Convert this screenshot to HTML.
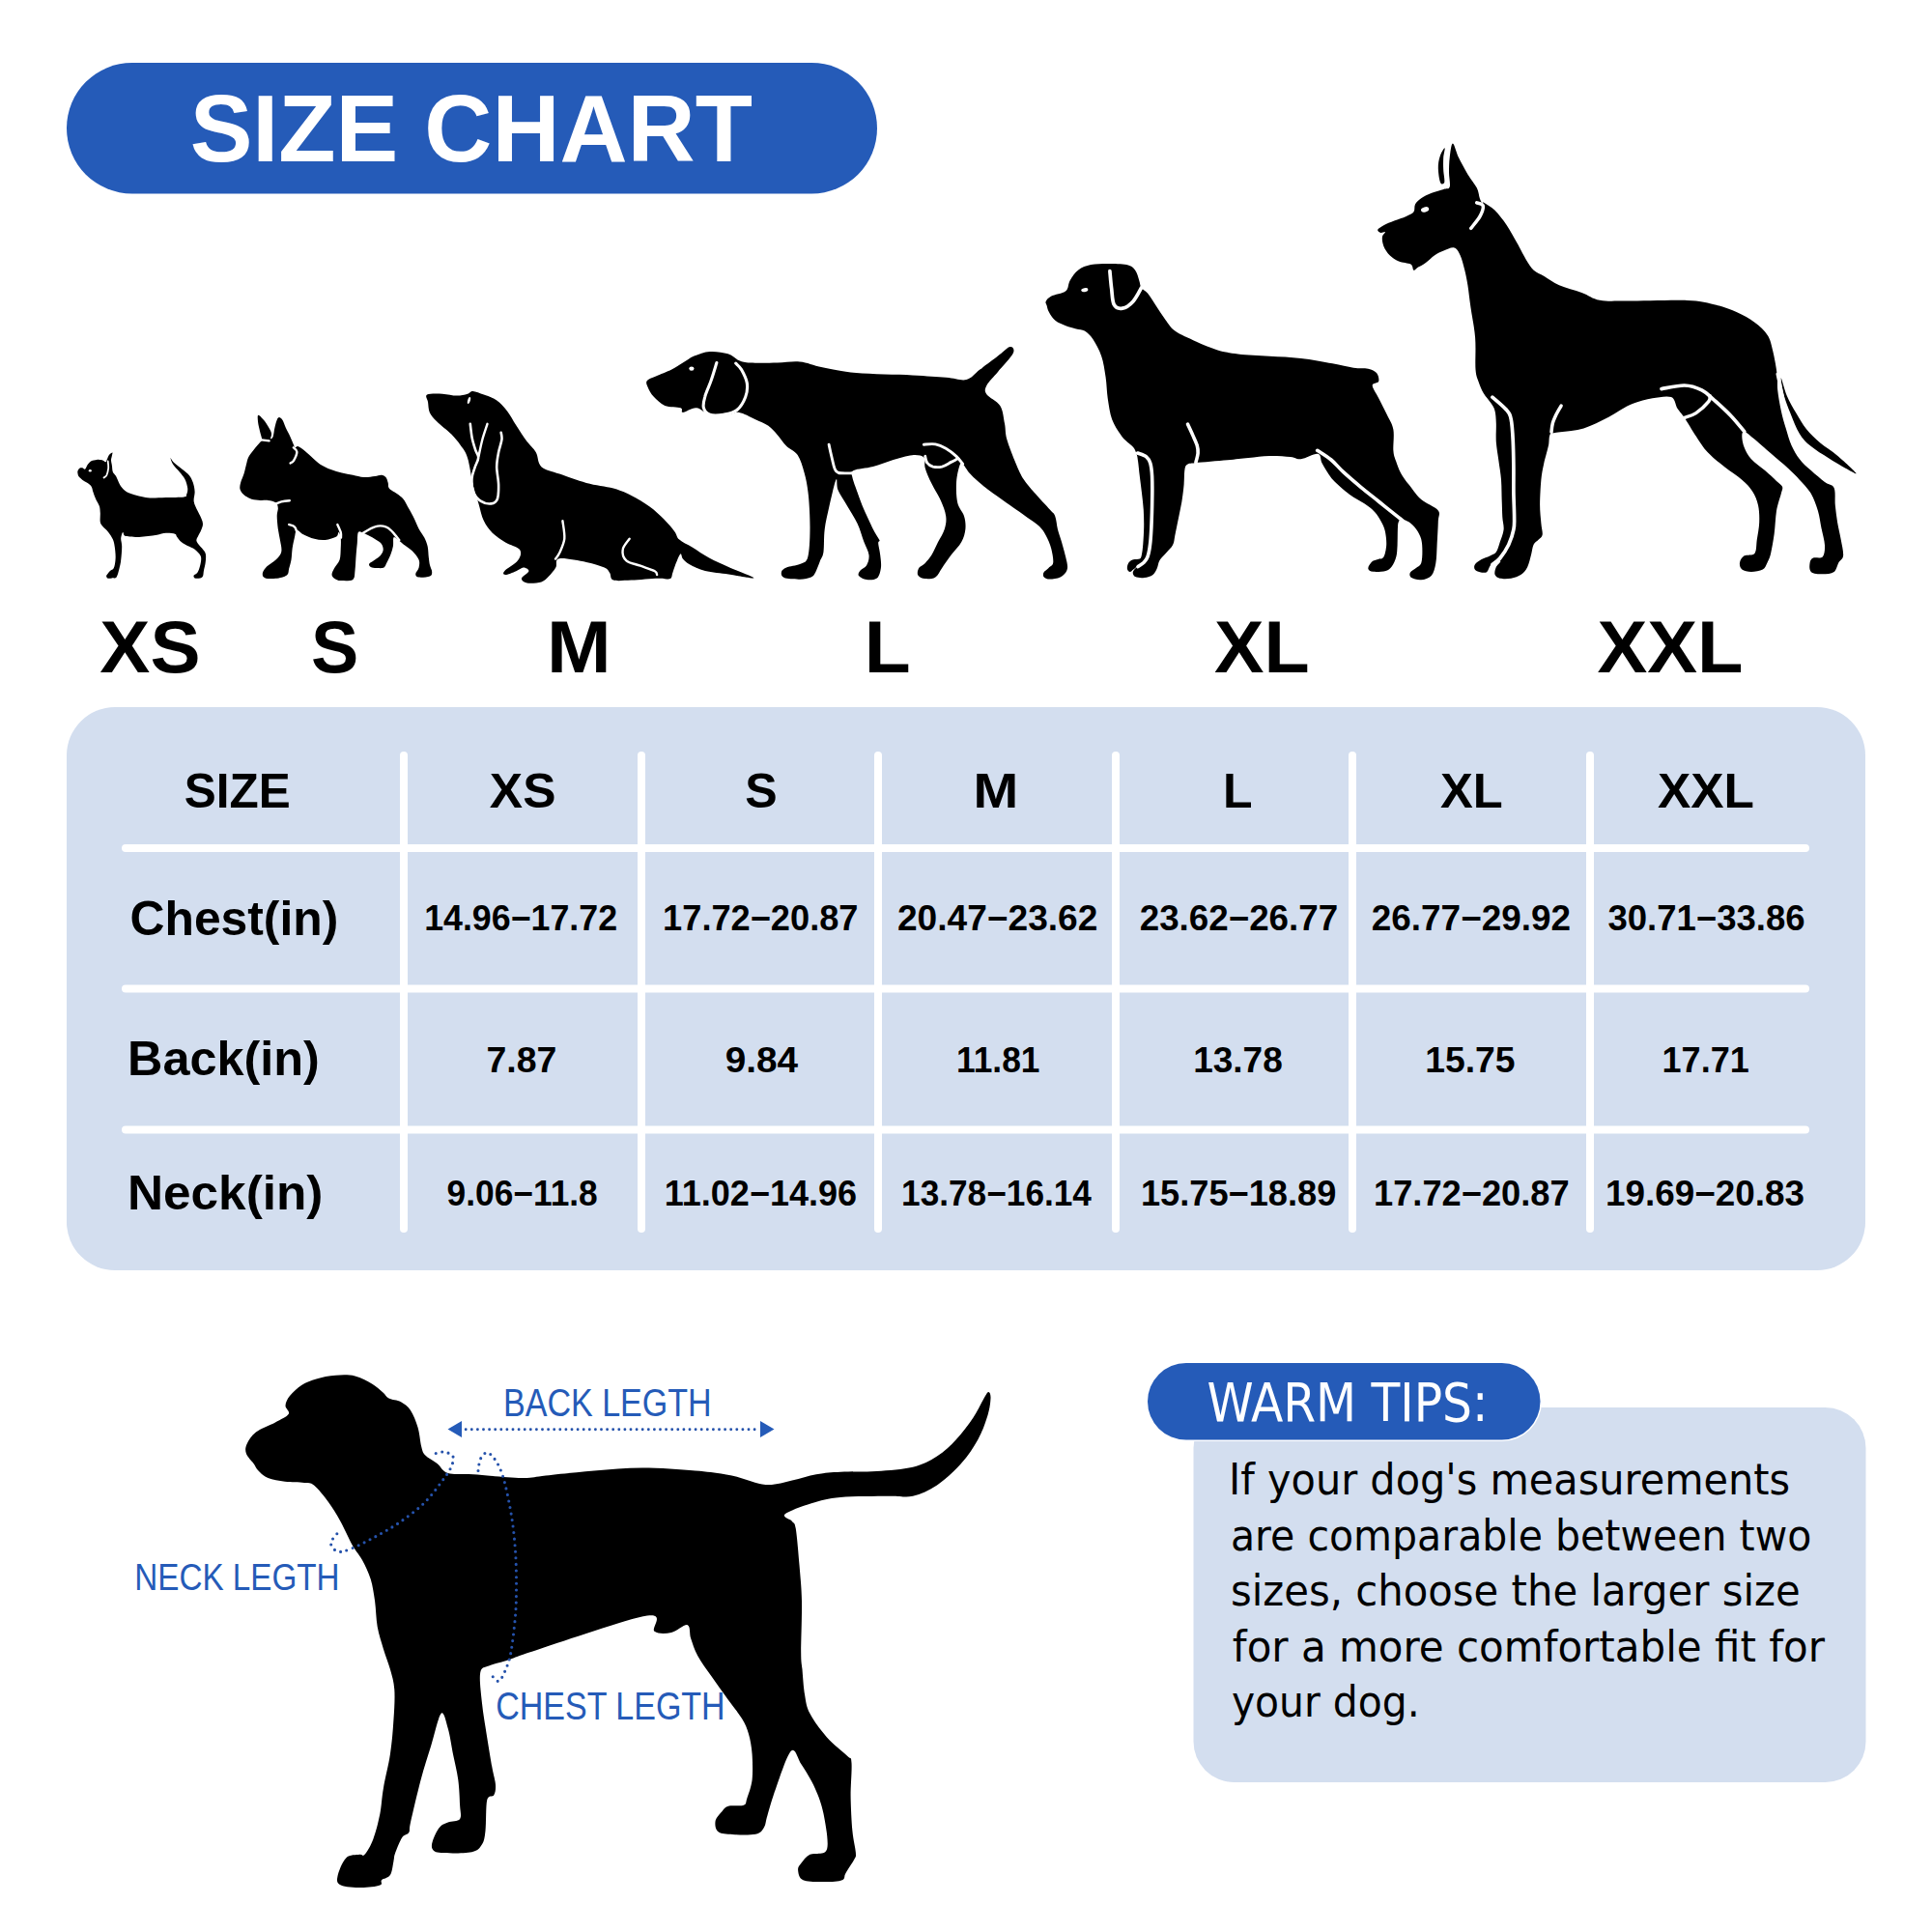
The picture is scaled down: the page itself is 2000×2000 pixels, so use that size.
<!DOCTYPE html>
<html><head><meta charset="utf-8"><title>Size Chart</title>
<style>html,body{margin:0;padding:0;background:#fff;}body{width:2000px;height:2000px;overflow:hidden;}svg{display:block;}</style>
</head><body>
<svg width="2000" height="2000" viewBox="0 0 2000 2000">
<rect width="2000" height="2000" fill="#fff"/>
<rect x="69" y="65" width="839" height="135.5" rx="67.75" fill="#255bb8"/>
<path d="M80.5 487.5 C80.8 486.6 81.6 485.3 82.4 484.7 C83.1 484.2 84.2 484.1 85.2 484.3 C86.1 484.4 87.0 486.2 88.0 485.7 C88.9 485.1 89.7 482.4 90.7 481.0 C91.8 479.6 92.9 478.1 94.5 477.3 C96.0 476.4 98.2 476.0 100.1 475.9 C101.9 475.7 104.1 475.9 105.7 476.3 C107.2 476.7 108.5 478.4 109.4 478.2 C110.2 478.0 110.2 476.6 110.8 475.4 C111.4 474.2 112.2 471.9 113.1 470.7 C114.0 469.6 115.9 468.3 116.4 468.4 C116.8 468.6 116.1 470.4 115.9 471.7 C115.7 473.0 115.0 474.6 115.0 476.3 C115.0 478.0 115.6 479.9 115.9 481.9 C116.2 483.9 116.2 486.7 116.8 488.4 C117.5 490.2 118.9 490.9 119.6 492.2 C120.4 493.4 120.6 494.0 121.5 495.9 C122.4 497.8 123.7 501.2 125.2 503.4 C126.8 505.5 128.5 507.5 130.8 508.9 C133.1 510.4 136.2 511.3 139.2 512.2 C142.1 513.1 145.4 514.0 148.5 514.5 C151.6 515.1 153.9 515.4 157.8 515.5 C161.7 515.5 166.4 515.2 171.8 515.0 C177.2 514.8 186.9 515.1 190.4 514.5 C194.0 514.0 192.6 513.3 193.2 511.7 C193.9 510.2 194.5 507.9 194.2 505.2 C193.9 502.6 192.8 498.7 191.4 495.9 C190.0 493.1 187.8 490.9 185.8 488.4 C183.8 486.0 180.8 483.4 179.3 481.0 C177.7 478.6 176.3 474.3 176.5 474.0 C176.6 473.7 178.2 477.2 180.2 479.1 C182.2 481.1 185.9 483.5 188.6 485.7 C191.2 487.8 194.2 489.8 196.0 492.2 C197.9 494.5 198.8 496.8 199.8 499.6 C200.7 502.4 201.5 505.7 201.6 508.9 C201.8 512.2 200.2 515.9 200.7 519.2 C201.2 522.5 203.2 525.7 204.4 528.5 C205.7 531.3 207.2 533.6 208.1 536.0 C209.1 538.3 210.0 540.3 210.0 542.5 C210.0 544.7 208.9 547.0 208.1 549.0 C207.4 551.0 206.1 552.7 205.3 554.6 C204.6 556.5 202.9 558.0 203.5 560.2 C204.1 562.4 207.5 565.5 209.1 567.6 C210.6 569.8 212.2 570.9 212.8 573.2 C213.4 575.6 213.1 578.7 212.8 581.6 C212.5 584.6 211.4 588.5 210.9 590.9 C210.5 593.4 210.6 595.3 210.0 596.5 C209.4 597.8 208.6 598.1 207.2 598.4 C205.8 598.7 202.7 598.9 201.6 598.4 C200.5 597.9 200.2 596.5 200.7 595.6 C201.2 594.7 203.3 594.5 204.4 592.8 C205.5 591.1 206.6 588.0 207.2 585.3 C207.8 582.7 208.5 579.1 208.1 577.0 C207.8 574.8 206.7 573.9 205.3 572.3 C203.9 570.7 201.9 569.0 199.8 567.6 C197.6 566.2 194.5 565.2 192.3 563.9 C190.1 562.7 188.3 561.6 186.7 560.2 C185.2 558.8 183.9 556.8 183.0 555.5 C182.1 554.3 183.0 553.4 181.1 552.7 C179.3 552.1 174.9 551.6 171.8 551.8 C168.7 552.0 165.6 553.1 162.5 553.7 C159.4 554.2 156.3 554.7 153.2 555.1 C150.1 555.5 147.0 555.9 143.9 556.0 C140.7 556.1 137.0 555.8 134.5 555.5 C132.1 555.3 130.2 555.4 128.9 554.6 C127.7 553.8 127.7 550.4 127.1 550.9 C126.5 551.3 125.4 554.9 125.2 557.4 C125.1 559.9 126.2 562.1 126.2 565.8 C126.2 569.5 125.7 575.9 125.2 579.8 C124.8 583.6 124.1 586.1 123.4 589.1 C122.6 592.0 121.8 595.9 120.6 597.5 C119.3 599.0 117.5 598.2 115.9 598.4 C114.3 598.5 112.2 598.9 111.2 598.4 C110.3 597.9 109.8 596.8 110.3 595.6 C110.8 594.4 112.8 592.2 114.0 590.9 C115.3 589.7 116.8 590.3 117.8 588.1 C118.7 586.0 119.5 581.6 119.6 577.9 C119.8 574.2 119.2 569.0 118.7 565.8 C118.2 562.5 117.9 560.8 116.8 558.3 C115.7 555.8 113.9 553.0 112.2 550.9 C110.5 548.7 108.0 547.0 106.6 545.3 C105.2 543.6 104.3 543.0 103.8 540.6 C103.3 538.3 103.9 534.1 103.8 531.3 C103.6 528.5 103.6 526.3 102.9 523.9 C102.1 521.4 100.2 518.9 99.1 516.4 C98.0 513.9 97.1 511.1 96.3 508.9 C95.6 506.8 95.6 504.9 94.5 503.4 C93.4 501.8 91.4 500.7 89.8 499.6 C88.3 498.5 86.6 497.9 85.2 496.8 C83.8 495.7 82.2 494.2 81.4 493.1 C80.7 492.0 80.7 491.2 80.5 490.3 C80.3 489.4 80.2 488.4 80.5 487.5Z" fill="#000"/>
<path d="M267.3 429.7 C268.3 429.3 271.3 432.8 273.0 434.8 C274.7 436.8 276.2 439.4 277.6 441.6 C278.9 443.9 280.6 446.4 281.0 448.5 C281.4 450.6 279.8 453.6 280.1 454.2 C280.4 454.7 282.0 453.8 282.7 451.9 C283.4 450.0 283.7 445.6 284.4 442.8 C285.1 439.9 285.9 436.6 286.7 434.8 C287.4 433.0 288.0 432.0 289.0 432.0 C289.9 432.0 291.2 433.0 292.4 434.8 C293.5 436.6 294.5 439.9 295.8 442.8 C297.1 445.6 299.0 449.0 300.4 451.9 C301.7 454.7 302.9 458.0 303.8 459.9 C304.6 461.8 304.7 462.9 305.5 463.3 C306.2 463.6 306.9 461.8 308.3 462.1 C309.7 462.5 311.7 463.8 314.0 465.5 C316.3 467.3 319.1 469.9 322.0 472.4 C324.8 474.8 327.7 478.1 331.1 480.4 C334.5 482.6 338.7 484.5 342.5 486.0 C346.3 487.6 350.1 488.5 353.9 489.5 C357.7 490.4 361.5 491.0 365.3 491.7 C369.1 492.5 372.8 493.8 376.6 494.0 C380.4 494.2 385.0 493.3 388.0 492.9 C391.1 492.5 393.0 491.5 394.9 491.7 C396.8 491.9 398.3 492.7 399.4 494.0 C400.6 495.3 401.1 497.8 401.7 499.7 C402.3 501.6 401.3 503.5 402.8 505.4 C404.4 507.3 408.3 509.2 410.8 511.1 C413.3 513.0 415.7 514.5 417.6 516.8 C419.5 519.1 420.5 521.7 422.2 524.8 C423.9 527.8 426.0 531.2 427.9 535.0 C429.8 538.8 431.7 543.9 433.6 547.5 C435.5 551.1 437.8 553.6 439.3 556.6 C440.8 559.7 441.9 562.3 442.7 565.8 C443.4 569.2 443.4 573.9 443.8 577.1 C444.2 580.4 444.4 582.6 445.0 585.1 C445.5 587.6 447.2 590.0 447.2 591.9 C447.2 593.8 447.2 595.5 445.0 596.5 C442.7 597.4 436.0 598.0 433.6 597.6 C431.1 597.3 430.2 595.9 430.2 594.2 C430.2 592.5 433.0 589.9 433.6 587.4 C434.1 584.9 434.7 582.3 433.6 579.4 C432.4 576.6 429.4 573.0 426.7 570.3 C424.1 567.7 420.3 565.6 417.6 563.5 C415.0 561.4 412.5 558.9 410.8 557.8 C409.1 556.6 408.0 555.3 407.4 556.6 C406.7 557.9 407.4 562.6 406.9 565.6 C406.4 568.5 405.4 571.3 404.4 574.1 C403.3 576.9 401.5 580.4 400.4 582.6 C399.2 584.9 399.0 586.6 397.5 587.5 C396.0 588.4 393.3 588.1 391.3 588.1 C389.2 588.1 386.5 588.0 385.0 587.5 C383.5 587.0 382.4 585.7 382.1 584.9 C381.9 584.1 382.2 583.6 383.3 582.6 C384.3 581.7 386.6 580.6 388.4 579.2 C390.2 577.9 392.7 576.4 394.1 574.7 C395.5 573.0 396.6 571.0 396.7 569.0 C396.8 567.0 396.2 564.6 394.7 562.7 C393.1 560.8 389.7 559.1 387.3 557.6 C384.8 556.1 381.7 554.5 379.9 553.6 C378.1 552.6 377.9 552.3 376.4 551.9 C375.0 551.4 372.1 549.2 370.9 550.9 C369.8 552.7 370.2 558.5 369.8 562.3 C369.4 566.1 369.1 569.0 368.7 573.7 C368.3 578.5 368.1 586.4 367.5 590.8 C367.0 595.2 367.5 598.2 365.3 599.9 C363.0 601.6 356.7 601.1 353.9 601.1 C351.0 601.1 349.9 600.9 348.2 599.9 C346.5 599.0 344.0 597.3 343.6 595.4 C343.2 593.5 344.6 591.2 345.9 588.5 C347.2 585.9 350.5 582.8 351.6 579.4 C352.7 576.0 352.5 571.8 352.7 568.0 C352.9 564.2 353.1 559.5 352.7 556.6 C352.4 553.8 351.2 551.1 350.5 550.9 C349.7 550.8 350.5 554.2 348.2 555.5 C345.9 556.8 340.6 558.5 336.8 558.9 C333.0 559.3 329.2 558.7 325.4 557.8 C321.6 556.8 317.1 554.7 314.0 553.2 C311.0 551.7 308.7 548.1 307.2 548.7 C305.7 549.2 305.7 553.4 304.9 556.6 C304.1 559.9 303.2 564.2 302.6 568.0 C302.1 571.8 302.1 576.0 301.5 579.4 C300.9 582.8 300.0 585.9 299.2 588.5 C298.5 591.2 299.2 593.7 296.9 595.4 C294.7 597.1 289.3 598.3 285.5 598.8 C281.8 599.2 276.4 599.2 274.2 598.2 C271.9 597.3 271.5 595.1 271.9 593.1 C272.3 591.1 274.2 588.5 276.4 586.2 C278.7 584.0 283.1 581.9 285.5 579.4 C288.0 576.9 290.5 574.7 291.2 571.4 C292.0 568.2 290.7 564.0 290.1 560.1 C289.5 556.1 288.4 551.9 287.8 547.5 C287.3 543.2 286.7 537.5 286.7 533.9 C286.7 530.3 288.0 528.2 287.8 525.9 C287.6 523.6 287.3 521.5 285.5 520.2 C283.8 518.9 280.2 518.3 277.6 517.9 C274.9 517.5 272.5 518.1 269.6 517.9 C266.8 517.7 263.3 517.7 260.5 516.8 C257.6 515.8 254.5 513.9 252.5 512.2 C250.5 510.5 249.1 508.6 248.5 506.5 C248.0 504.5 248.4 502.4 249.1 499.7 C249.8 497.1 251.6 493.6 252.5 490.6 C253.5 487.6 254.0 484.3 254.8 481.5 C255.6 478.6 255.8 476.2 257.1 473.5 C258.4 470.9 260.7 468.2 262.8 465.5 C264.9 462.9 268.2 459.3 269.6 457.6 C271.0 455.9 271.4 457.2 271.3 455.3 C271.2 453.4 269.7 449.2 269.0 446.2 C268.3 443.2 267.4 439.8 267.1 437.1 C266.8 434.3 266.3 430.1 267.3 429.7Z" fill="#000"/>
<path d="M442.1 408.6 C444.6 407.2 452.8 407.5 458.0 407.7 C463.1 407.9 468.5 409.6 472.9 409.6 C477.2 409.6 481.2 408.5 484.0 407.7 C486.8 406.9 486.8 404.8 489.6 404.9 C492.4 405.1 496.8 407.1 500.8 408.6 C504.8 410.2 509.8 411.4 513.9 414.2 C517.9 417.0 521.6 421.1 525.0 425.4 C528.4 429.8 530.9 435.0 534.3 440.3 C537.8 445.6 542.1 452.4 545.5 457.1 C548.9 461.7 552.4 463.9 554.8 468.3 C557.3 472.6 556.4 479.4 560.4 483.2 C564.5 486.9 571.3 487.8 579.1 490.6 C586.8 493.4 597.7 497.5 607.0 499.9 C616.3 502.4 627.2 503.4 635.0 505.5 C642.7 507.7 647.4 509.9 653.6 513.0 C659.8 516.1 666.6 520.1 672.2 524.2 C677.8 528.2 682.8 532.9 687.1 537.2 C691.5 541.6 695.7 546.7 698.3 550.2 C701.0 553.8 700.1 555.9 703.2 558.6 C706.2 561.4 711.4 563.5 716.6 566.6 C721.7 569.8 727.8 574.1 734.1 577.5 C740.4 580.8 746.8 583.7 754.2 587.0 C761.6 590.2 774.8 595.1 778.4 597.0 C782.1 598.9 780.2 598.8 776.2 598.3 C772.2 597.9 761.9 595.7 754.2 594.4 C746.5 593.2 736.7 592.6 730.0 590.9 C723.3 589.2 717.6 586.2 713.8 584.2 C710.0 582.1 708.6 580.6 707.1 578.8 C705.5 577.0 705.6 572.9 704.5 573.4 C703.4 573.8 701.7 578.4 700.4 581.6 C699.0 584.7 697.6 589.4 696.5 592.4 C695.3 595.3 696.1 598.0 693.7 599.1 C691.2 600.1 688.2 598.4 681.6 598.7 C674.9 598.9 661.4 600.2 653.6 600.6 C645.8 600.9 638.7 601.8 635.0 600.6 C631.2 599.3 632.8 595.3 631.2 593.1 C629.7 590.9 629.7 589.4 625.7 587.5 C621.6 585.7 614.8 583.5 607.0 581.9 C599.3 580.4 584.3 577.3 579.1 578.2 C573.8 579.1 577.2 584.4 575.3 587.5 C573.5 590.6 570.4 594.3 567.9 596.8 C565.4 599.3 564.2 601.3 560.4 602.4 C556.7 603.5 548.9 604.0 545.5 603.4 C542.1 602.7 539.6 600.7 539.9 598.7 C540.2 596.7 547.1 593.1 547.4 591.2 C547.7 589.4 544.0 587.5 541.8 587.5 C539.6 587.5 537.5 590.0 534.3 591.2 C531.2 592.5 525.2 595.0 523.2 595.0 C521.1 595.0 520.1 593.7 522.2 591.2 C524.4 588.8 533.6 583.8 536.2 580.1 C538.9 576.3 540.2 572.0 538.1 568.9 C535.9 565.8 527.8 564.2 523.2 561.4 C518.5 558.6 513.9 555.8 510.1 552.1 C506.4 548.4 503.3 544.3 500.8 539.1 C498.3 533.8 497.1 526.6 495.2 520.4 C493.4 514.2 491.5 509.6 489.6 501.8 C487.8 494.0 486.2 480.7 484.0 473.9 C481.9 467.0 479.4 464.8 476.6 460.8 C473.8 456.8 471.3 453.7 467.3 449.6 C463.2 445.6 456.1 440.3 452.4 436.6 C448.6 432.9 446.5 430.7 444.9 427.3 C443.4 423.9 443.5 419.2 443.0 416.1 C442.6 413.0 439.6 410.0 442.1 408.6Z" fill="#000"/>
<path d="M669.7 394.3 C671.0 392.3 674.7 391.5 679.0 389.6 C683.2 387.7 690.6 384.9 695.3 382.6 C699.9 380.3 703.0 378.0 706.9 375.6 C710.8 373.3 713.9 370.6 718.6 368.6 C723.2 366.7 729.1 364.4 734.9 364.0 C740.7 363.6 748.5 364.8 753.5 366.3 C758.6 367.9 761.3 371.7 765.2 373.3 C769.0 374.8 770.2 375.2 776.8 375.6 C783.4 376.0 796.2 375.8 804.8 375.6 C813.3 375.4 820.3 373.7 828.0 374.5 C835.8 375.2 841.6 378.3 851.3 380.3 C861.0 382.2 870.7 384.7 886.3 386.1 C901.8 387.5 929.0 387.7 944.5 388.4 C960.0 389.2 970.1 390.0 979.4 390.8 C988.8 391.5 994.6 394.4 1000.4 393.1 C1006.2 391.7 1008.9 386.7 1014.4 382.6 C1019.8 378.5 1028.0 372.5 1033.0 368.6 C1038.1 364.8 1041.9 360.5 1044.7 359.3 C1047.4 358.2 1048.9 360.1 1049.3 361.6 C1049.7 363.2 1049.7 364.8 1047.0 368.6 C1044.3 372.5 1037.3 379.9 1033.0 384.9 C1028.7 390.0 1023.3 395.0 1021.4 398.9 C1019.4 402.8 1019.0 404.7 1021.4 408.2 C1023.7 411.7 1032.2 414.8 1035.3 419.9 C1038.5 424.9 1038.8 432.7 1040.0 438.5 C1041.2 444.3 1040.4 447.8 1042.3 454.8 C1044.3 461.8 1048.9 473.4 1051.9 480.4 C1054.8 487.3 1056.6 491.4 1059.9 496.5 C1063.3 501.7 1067.6 506.2 1072.0 511.3 C1076.5 516.5 1083.5 523.7 1086.8 527.5 C1090.2 531.3 1090.9 530.8 1092.2 534.2 C1093.6 537.6 1093.8 543.2 1094.9 547.7 C1096.0 552.1 1097.4 555.5 1099.0 561.1 C1100.5 566.7 1103.4 576.4 1104.3 581.3 C1105.2 586.2 1105.5 588.0 1104.3 590.7 C1103.2 593.4 1100.5 596.0 1097.6 597.4 C1094.7 598.9 1089.6 599.5 1086.8 599.5 C1084.0 599.5 1081.9 598.6 1080.8 597.4 C1079.7 596.3 1079.6 594.3 1080.4 592.7 C1081.2 591.2 1083.9 589.7 1085.5 588.0 C1087.1 586.3 1089.8 586.0 1090.2 582.6 C1090.7 579.3 1089.4 572.6 1088.2 567.8 C1087.0 563.1 1084.8 558.2 1082.8 554.4 C1080.8 550.6 1079.0 547.9 1076.1 545.0 C1073.2 542.0 1069.4 539.8 1065.3 536.9 C1061.3 534.0 1056.3 530.6 1051.9 527.5 C1047.4 524.3 1044.0 522.1 1038.4 518.1 C1032.8 514.0 1023.8 507.7 1018.2 503.2 C1012.6 498.8 1008.5 495.1 1004.8 491.1 C1001.1 487.2 998.0 480.8 996.0 479.7 C994.0 478.6 993.7 480.9 992.6 484.4 C991.6 487.9 990.2 494.5 990.0 500.6 C989.7 506.6 990.0 515.1 991.3 520.7 C992.6 526.3 996.7 529.7 998.0 534.2 C999.4 538.7 999.8 543.2 999.4 547.7 C998.9 552.1 997.8 556.6 995.3 561.1 C992.9 565.6 987.9 570.1 984.6 574.6 C981.2 579.1 977.8 584.2 975.2 588.0 C972.5 591.8 971.3 595.6 968.4 597.4 C965.5 599.3 960.7 599.4 957.7 599.1 C954.6 598.7 951.3 597.3 950.3 595.4 C949.2 593.6 950.0 590.1 951.2 588.0 C952.4 585.9 955.5 585.2 957.7 582.9 C959.9 580.7 962.1 578.2 964.4 574.6 C966.6 570.9 968.9 565.6 971.1 561.1 C973.4 556.6 976.5 552.1 977.8 547.7 C979.2 543.2 979.9 539.1 979.2 534.2 C978.5 529.3 976.3 523.7 973.8 518.1 C971.3 512.4 967.1 506.2 964.4 500.6 C961.7 494.9 959.0 488.9 957.7 484.4 C956.3 479.9 958.6 475.8 956.3 473.6 C954.1 471.4 949.6 470.8 944.2 471.2 C938.8 471.7 930.7 474.4 924.0 476.3 C917.3 478.3 910.6 481.3 903.8 483.1 C897.1 484.9 887.2 485.3 883.6 487.1 C880.1 488.9 881.6 490.0 882.3 493.8 C883.0 497.6 885.7 504.4 887.7 510.0 C889.7 515.6 891.7 521.2 894.4 527.5 C897.1 533.8 901.4 542.7 903.8 547.7 C906.3 552.6 908.1 555.1 909.2 557.1 C910.3 559.1 910.6 558.9 910.6 559.8 C910.6 560.7 909.1 560.0 909.2 562.5 C909.3 564.9 910.8 570.3 911.2 574.6 C911.7 578.8 912.5 584.0 911.9 588.0 C911.3 592.0 910.3 596.5 907.9 598.5 C905.4 600.5 900.2 600.5 897.1 600.1 C894.0 599.7 890.1 597.7 889.0 596.1 C887.9 594.5 889.0 592.5 890.4 590.7 C891.7 588.9 895.6 588.0 897.1 585.3 C898.6 582.6 900.0 578.6 899.5 574.6 C899.1 570.5 896.4 566.5 894.4 561.1 C892.4 555.7 890.6 548.6 887.7 542.3 C884.8 536.0 880.3 529.3 876.9 523.4 C873.5 517.6 869.4 511.8 867.5 507.3 C865.6 502.8 867.0 493.6 865.5 496.5 C863.9 499.4 860.3 516.1 858.3 524.7 C856.4 533.3 854.6 540.2 853.7 548.0 C852.7 555.7 853.3 565.8 852.5 571.3 C851.7 576.7 850.4 577.1 849.0 580.6 C847.6 584.1 845.9 589.4 844.3 592.2 C842.8 595.0 842.4 596.1 839.7 597.4 C837.0 598.6 832.7 599.6 828.0 599.7 C823.4 599.8 814.9 599.3 811.7 598.1 C808.6 596.8 808.6 594.0 808.9 592.2 C809.3 590.5 810.9 588.9 814.1 587.6 C817.3 586.2 824.4 585.8 828.0 584.1 C831.7 582.3 834.5 583.1 836.2 577.1 C837.9 571.1 838.4 558.7 838.5 548.0 C838.6 537.3 837.9 522.7 836.9 513.0 C835.9 503.3 834.6 496.7 832.7 489.8 C830.8 482.8 828.8 475.8 825.7 471.1 C822.6 466.5 817.6 465.3 814.1 461.8 C810.6 458.3 807.9 453.6 804.8 450.2 C801.6 446.7 799.3 443.6 795.4 440.8 C791.6 438.1 786.5 436.2 781.5 433.9 C776.4 431.5 769.8 427.6 765.2 426.9 C760.5 426.1 758.6 428.8 753.5 429.2 C748.5 429.6 740.3 430.4 734.9 429.2 C729.4 428.0 725.6 422.6 720.9 422.2 C716.2 421.8 709.6 426.9 706.9 426.9 C704.2 426.9 707.7 423.4 704.6 422.2 C701.5 421.0 693.0 421.8 688.3 419.9 C683.6 417.9 679.6 413.7 676.6 410.6 C673.7 407.5 672.0 404.0 670.8 401.2 C669.7 398.5 668.3 396.2 669.7 394.3Z" fill="#000"/>
<path d="M1082.6 312.2 C1083.3 310.5 1084.6 308.6 1088.0 306.7 C1091.5 304.9 1100.0 304.0 1103.3 301.3 C1106.5 298.6 1105.4 294.1 1107.6 290.4 C1109.8 286.8 1112.7 282.3 1116.3 279.6 C1119.9 276.8 1124.3 275.2 1129.3 274.1 C1134.4 273.0 1140.6 273.0 1146.7 273.0 C1152.9 273.0 1161.6 273.0 1166.3 274.1 C1171.0 275.2 1172.8 276.8 1175.0 279.6 C1177.2 282.3 1178.3 287.4 1179.3 290.4 C1180.4 293.5 1180.1 295.9 1181.5 298.0 C1183.0 300.2 1185.5 300.4 1188.0 303.5 C1190.6 306.6 1193.8 312.2 1196.7 316.5 C1199.6 320.9 1202.2 325.2 1205.4 329.6 C1208.7 333.9 1210.9 338.6 1216.3 342.6 C1221.7 346.6 1230.8 350.2 1238.0 353.5 C1245.3 356.7 1252.5 360.0 1259.8 362.2 C1267.0 364.3 1272.5 365.4 1281.5 366.5 C1290.6 367.6 1303.3 368.0 1314.1 368.7 C1325.0 369.4 1335.9 369.6 1346.7 370.9 C1357.6 372.1 1370.3 374.7 1379.3 376.3 C1388.4 377.9 1394.9 379.7 1401.1 380.7 C1407.2 381.6 1412.3 380.8 1416.3 381.7 C1420.3 382.6 1423.2 383.9 1425.0 386.1 C1426.8 388.3 1427.9 392.6 1427.2 394.8 C1426.4 397.0 1420.7 396.2 1420.7 399.1 C1420.7 402.0 1424.6 407.1 1427.2 412.2 C1429.7 417.2 1433.3 424.1 1435.9 429.6 C1438.4 435.0 1441.3 438.6 1442.4 444.8 C1443.5 450.9 1441.9 461.1 1442.4 466.5 C1442.8 471.9 1443.8 473.4 1445.1 477.3 C1446.4 481.1 1447.8 485.5 1450.1 489.7 C1452.3 493.8 1455.2 497.6 1458.8 502.1 C1462.3 506.7 1466.2 512.7 1471.2 517.0 C1476.1 521.4 1485.6 524.5 1488.6 528.2 C1491.5 531.9 1489.0 533.4 1488.8 539.4 C1488.7 545.4 1488.0 557.0 1487.6 564.2 C1487.2 571.5 1487.3 577.6 1486.3 582.9 C1485.4 588.1 1484.3 593.0 1481.7 595.9 C1479.2 598.8 1474.6 599.9 1471.2 600.2 C1467.8 600.6 1463.1 599.3 1461.2 598.0 C1459.3 596.8 1458.9 594.5 1459.8 592.8 C1460.6 591.1 1464.3 589.5 1466.2 587.8 C1468.1 586.2 1470.1 585.8 1471.2 582.9 C1472.2 580.0 1472.4 574.6 1472.4 570.4 C1472.4 566.3 1472.2 561.7 1471.2 558.0 C1470.1 554.3 1468.3 551.0 1466.2 548.1 C1464.1 545.2 1461.2 542.4 1458.8 540.6 C1456.3 538.9 1453.1 537.7 1451.3 537.5 C1449.5 537.3 1448.9 538.0 1448.2 539.4 C1447.5 540.7 1447.2 541.4 1447.0 545.6 C1446.7 549.7 1446.9 559.0 1446.6 564.2 C1446.3 569.4 1446.3 572.9 1445.3 576.6 C1444.4 580.4 1442.5 584.2 1440.7 586.6 C1438.9 589.0 1437.7 590.1 1434.5 590.9 C1431.3 591.8 1424.5 592.2 1421.5 591.8 C1418.4 591.4 1416.5 590.1 1416.3 588.4 C1416.1 586.7 1418.6 583.2 1420.2 581.6 C1421.9 580.1 1424.4 580.0 1426.5 579.1 C1428.5 578.3 1431.0 579.1 1432.4 576.6 C1433.9 574.2 1434.9 568.4 1435.2 564.2 C1435.4 560.1 1434.8 555.3 1434.2 551.8 C1433.5 548.3 1432.9 546.3 1431.4 543.1 C1429.9 539.9 1427.4 535.5 1425.2 532.5 C1423.0 529.6 1420.8 527.6 1418.3 525.5 C1415.7 523.3 1412.7 521.6 1409.8 519.8 C1407.0 518.0 1404.1 516.5 1401.2 514.7 C1398.4 512.8 1395.3 510.5 1392.7 508.4 C1390.0 506.4 1387.7 504.3 1385.3 502.1 C1383.0 499.9 1380.6 497.8 1378.5 495.3 C1376.4 492.7 1374.5 489.6 1372.8 486.8 C1371.1 484.1 1369.6 481.6 1368.2 478.8 C1366.8 475.9 1367.8 470.4 1364.2 469.8 C1360.6 469.2 1351.5 474.7 1346.7 475.2 C1342.0 475.8 1341.3 473.6 1335.9 473.0 C1330.4 472.5 1321.4 471.8 1314.1 472.0 C1306.9 472.1 1299.6 473.4 1292.4 474.1 C1285.1 474.9 1279.8 475.5 1270.7 476.3 C1261.5 477.1 1244.3 478.5 1237.5 479.2 C1230.6 479.9 1231.4 479.4 1229.5 480.5 C1227.7 481.6 1227.1 482.3 1226.5 485.8 C1225.8 489.3 1226.1 496.0 1225.6 501.6 C1225.1 507.2 1224.3 513.4 1223.4 519.2 C1222.4 525.1 1221.0 531.0 1219.9 536.8 C1218.7 542.7 1217.3 549.9 1216.3 554.4 C1215.4 559.0 1215.6 561.2 1214.1 564.1 C1212.7 567.1 1209.8 569.4 1207.5 572.0 C1205.3 574.7 1202.1 577.3 1200.5 580.0 C1198.9 582.6 1199.0 585.4 1197.9 587.9 C1196.7 590.4 1195.7 593.2 1193.5 594.9 C1191.2 596.6 1187.7 597.6 1184.6 598.0 C1181.6 598.4 1177.4 598.1 1175.4 597.1 C1173.4 596.2 1172.5 593.9 1172.8 592.3 C1173.0 590.6 1175.5 588.4 1176.7 587.2 C1178.0 585.9 1180.0 585.1 1180.2 584.8 C1180.5 584.6 1179.2 584.9 1178.0 585.7 C1176.9 586.5 1174.6 588.6 1173.2 589.6 C1171.8 590.7 1170.7 592.3 1169.7 592.1 C1168.6 592.0 1167.1 590.4 1166.9 588.8 C1166.6 587.2 1167.3 584.2 1168.4 582.6 C1169.4 581.0 1171.3 580.0 1173.2 579.3 C1175.1 578.6 1178.4 579.1 1179.8 578.4 C1181.2 577.6 1181.2 577.2 1181.8 574.7 C1182.4 572.2 1182.9 568.1 1183.3 563.2 C1183.7 558.4 1184.1 551.5 1184.2 545.6 C1184.3 539.8 1184.1 533.9 1183.8 528.0 C1183.4 522.2 1182.7 516.3 1182.0 510.4 C1181.3 504.6 1180.5 498.4 1179.8 492.8 C1179.1 487.2 1178.6 480.7 1178.0 477.0 C1177.5 473.2 1177.5 472.7 1176.7 470.4 C1175.9 468.1 1175.1 465.5 1173.2 463.1 C1171.3 460.7 1167.5 458.3 1165.3 456.0 C1163.1 453.8 1162.4 453.4 1160.0 449.7 C1157.6 446.0 1153.3 440.2 1151.1 433.9 C1148.9 427.7 1147.8 419.4 1146.7 412.2 C1145.7 404.9 1145.7 397.7 1144.6 390.4 C1143.5 383.2 1142.4 375.2 1140.2 368.7 C1138.0 362.2 1134.4 355.7 1131.5 351.3 C1128.6 347.0 1125.7 344.4 1122.8 342.6 C1119.9 340.8 1117.4 341.3 1114.1 340.4 C1110.9 339.5 1106.9 338.6 1103.3 337.2 C1099.6 335.7 1095.3 334.1 1092.4 331.7 C1089.5 329.4 1087.3 325.6 1085.9 323.0 C1084.4 320.5 1084.2 318.3 1083.7 316.5 C1083.2 314.7 1081.9 313.8 1082.6 312.2Z" fill="#000"/>
<path d="M1426.2 237.8 C1426.7 236.5 1429.6 234.7 1432.4 233.2 C1435.3 231.6 1439.4 230.1 1443.3 228.5 C1447.2 227.0 1452.3 225.4 1455.7 223.9 C1459.1 222.3 1461.9 221.3 1463.5 219.2 C1465.0 217.1 1463.7 213.8 1465.0 211.4 C1466.3 209.1 1468.4 207.2 1471.2 205.2 C1474.1 203.3 1478.2 201.3 1482.1 199.8 C1486.0 198.2 1491.4 196.9 1494.5 195.9 C1497.6 194.9 1499.8 196.4 1500.7 193.6 C1501.7 190.7 1500.0 183.9 1500.0 178.8 C1500.0 173.8 1500.1 168.3 1500.7 163.3 C1501.4 158.2 1502.3 148.5 1503.9 148.5 C1505.4 148.5 1507.5 158.0 1510.1 163.3 C1512.7 168.6 1516.3 175.2 1519.4 180.4 C1522.5 185.5 1526.6 190.2 1528.7 194.3 C1530.8 198.5 1530.9 202.6 1531.8 205.2 C1532.7 207.8 1533.4 209.1 1534.1 209.9 C1534.9 210.7 1534.3 208.6 1536.5 209.9 C1538.7 211.2 1543.4 213.8 1547.3 217.6 C1551.2 221.5 1555.9 227.5 1559.8 233.2 C1563.6 238.9 1567.3 245.8 1570.6 251.8 C1574.0 257.8 1577.1 264.2 1579.9 268.9 C1582.8 273.5 1584.6 276.9 1587.7 279.8 C1590.8 282.6 1594.2 283.4 1598.6 286.0 C1603.0 288.6 1607.6 292.4 1614.1 295.3 C1620.6 298.1 1630.4 300.5 1637.4 303.0 C1644.4 305.6 1648.3 309.4 1656.0 310.8 C1663.8 312.2 1668.9 311.6 1684.0 311.6 C1699.0 311.6 1731.5 310.3 1746.4 310.9 C1761.3 311.5 1764.8 312.9 1773.4 314.9 C1781.9 317.0 1790.4 319.9 1797.6 323.0 C1804.8 326.2 1811.0 329.8 1816.4 333.8 C1821.8 337.8 1826.7 342.3 1829.9 347.2 C1833.0 352.2 1833.6 356.7 1835.3 363.4 C1836.9 370.0 1838.8 380.4 1839.6 387.1 C1840.5 393.9 1839.5 397.5 1840.2 403.8 C1840.9 410.2 1842.4 418.7 1843.8 425.2 C1845.2 431.8 1846.8 437.1 1848.6 443.1 C1850.4 449.0 1852.1 455.6 1854.5 461.0 C1856.9 466.3 1859.5 470.9 1862.9 475.2 C1866.2 479.6 1870.4 483.2 1874.8 487.1 C1879.1 491.1 1885.1 496.1 1889.0 499.0 C1893.0 502.0 1896.8 501.0 1898.6 505.0 C1900.4 509.0 1899.2 516.9 1899.8 522.9 C1900.4 528.8 1901.2 534.8 1902.1 540.7 C1903.1 546.7 1904.7 552.8 1905.7 558.6 C1906.7 564.3 1908.5 571.3 1908.1 575.2 C1907.7 579.2 1904.9 579.6 1903.3 582.4 C1901.7 585.2 1901.3 589.9 1898.6 591.9 C1895.8 593.9 1890.6 594.3 1886.7 594.3 C1882.7 594.3 1876.9 593.9 1874.8 591.9 C1872.6 589.9 1873.2 584.8 1873.6 582.4 C1874.0 580.0 1875.0 578.6 1877.1 577.6 C1879.3 576.6 1884.7 578.6 1886.7 576.4 C1888.7 574.2 1889.2 569.5 1889.0 564.5 C1888.8 559.6 1886.7 552.6 1885.5 546.7 C1884.3 540.7 1883.7 534.8 1881.9 528.8 C1880.1 522.9 1877.9 516.3 1874.8 511.0 C1871.6 505.6 1866.8 501.0 1862.9 496.7 C1858.9 492.3 1855.9 489.3 1851.0 484.8 C1846.0 480.2 1839.0 474.4 1833.1 469.3 C1827.1 464.1 1819.8 457.6 1815.2 453.8 C1810.7 450.0 1807.7 447.1 1805.7 446.7 C1803.7 446.3 1803.3 448.7 1803.3 451.4 C1803.3 454.2 1804.1 459.4 1805.7 463.3 C1807.3 467.3 1809.3 471.3 1812.9 475.2 C1816.4 479.2 1822.8 483.4 1827.1 487.1 C1831.5 490.9 1836.1 495.1 1839.0 497.9 C1842.0 500.6 1844.2 501.6 1845.0 503.8 C1845.8 506.0 1844.8 506.8 1843.8 511.0 C1842.8 515.1 1840.2 521.9 1839.0 528.8 C1837.9 535.8 1837.7 545.3 1836.7 552.6 C1835.7 560.0 1834.3 567.9 1833.1 572.9 C1831.9 577.8 1830.9 579.6 1829.5 582.4 C1828.1 585.2 1827.5 587.9 1824.8 589.5 C1822.0 591.1 1816.4 591.9 1812.9 591.9 C1809.3 591.9 1805.3 591.1 1803.3 589.5 C1801.3 587.9 1800.6 584.8 1801.0 582.4 C1801.3 580.0 1803.1 576.8 1805.7 575.2 C1808.3 573.7 1814.2 575.6 1816.4 572.9 C1818.6 570.1 1818.0 563.9 1818.8 558.6 C1819.6 553.2 1821.0 546.7 1821.2 540.7 C1821.4 534.8 1821.2 528.2 1820.0 522.9 C1818.8 517.5 1816.8 512.9 1814.0 508.6 C1811.3 504.2 1808.1 500.8 1803.3 496.7 C1798.6 492.5 1791.4 488.3 1785.5 483.6 C1779.5 478.8 1772.6 473.5 1767.6 468.1 C1762.7 462.7 1759.7 457.4 1755.7 451.4 C1751.7 445.5 1747.0 437.2 1743.8 432.4 C1740.6 427.6 1738.8 426.3 1736.4 422.7 C1734.1 419.1 1734.3 412.8 1730.0 411.1 C1725.7 409.3 1717.0 411.3 1710.6 412.3 C1704.1 413.4 1696.6 415.6 1691.2 417.5 C1685.8 419.5 1682.5 421.6 1678.2 424.0 C1673.9 426.4 1669.6 429.4 1665.3 431.8 C1661.0 434.1 1656.7 436.3 1652.3 438.2 C1648.0 440.2 1643.7 442.1 1639.4 443.4 C1635.1 444.7 1631.4 445.2 1626.5 446.0 C1621.5 446.7 1613.3 447.3 1609.6 447.9 C1606.0 448.6 1605.5 447.8 1604.5 449.9 C1603.4 451.9 1603.8 456.8 1603.2 460.2 C1602.5 463.7 1601.4 467.1 1600.6 470.6 C1599.7 474.0 1598.9 476.6 1598.0 480.9 C1597.1 485.2 1596.1 489.6 1595.4 496.5 C1594.8 503.4 1594.1 514.8 1594.1 522.3 C1594.1 529.9 1595.0 536.6 1595.4 541.7 C1595.8 546.9 1597.1 550.6 1596.7 553.4 C1596.3 556.2 1594.3 556.8 1592.8 558.6 C1591.3 560.3 1588.9 561.2 1587.6 563.7 C1586.3 566.3 1586.1 570.2 1585.1 574.1 C1584.0 578.0 1582.9 583.6 1581.2 587.0 C1579.4 590.5 1577.5 592.9 1574.7 594.8 C1571.9 596.7 1568.0 598.0 1564.3 598.7 C1560.7 599.3 1555.5 599.3 1552.7 598.7 C1549.9 598.0 1548.2 596.7 1547.5 594.8 C1546.9 592.9 1547.8 589.3 1548.8 587.0 C1549.8 584.8 1553.3 582.4 1553.3 581.2 C1553.3 580.1 1550.5 579.4 1548.8 580.1 C1547.1 580.7 1544.6 583.1 1543.0 585.1 C1541.4 587.1 1540.9 591.0 1539.1 592.2 C1537.3 593.4 1534.0 592.6 1532.0 592.2 C1529.9 591.8 1527.7 590.9 1526.8 589.6 C1526.0 588.3 1525.7 586.2 1526.8 584.5 C1527.9 582.7 1530.7 580.8 1533.3 579.3 C1535.9 577.8 1539.8 576.7 1542.3 575.4 C1544.9 574.1 1547.1 573.9 1548.8 571.5 C1550.5 569.1 1551.4 565.0 1552.7 561.2 C1554.0 557.3 1556.2 552.5 1556.6 548.2 C1557.0 543.9 1555.6 540.7 1555.3 535.3 C1555.0 529.9 1554.9 522.3 1554.6 515.9 C1554.4 509.4 1554.5 502.9 1554.0 496.5 C1553.5 490.0 1552.3 483.5 1551.4 477.0 C1550.5 470.6 1549.3 464.1 1548.8 457.6 C1548.4 451.2 1549.0 443.6 1548.8 438.2 C1548.6 432.8 1548.4 428.7 1547.5 425.3 C1546.7 421.8 1545.6 420.5 1543.6 417.5 C1541.7 414.5 1538.0 410.8 1535.9 407.2 C1533.7 403.5 1532.1 399.6 1530.7 395.5 C1529.3 391.4 1528.1 390.2 1527.5 382.6 C1526.9 374.9 1528.0 360.3 1527.1 349.6 C1526.3 339.0 1523.8 327.6 1522.5 318.6 C1521.2 309.5 1520.4 301.7 1519.4 295.3 C1518.3 288.8 1517.6 284.9 1516.3 279.8 C1515.0 274.6 1513.4 268.1 1511.6 264.2 C1509.8 260.3 1508.3 257.2 1505.4 256.5 C1502.6 255.7 1497.9 258.3 1494.5 259.6 C1491.2 260.9 1488.3 262.2 1485.2 264.2 C1482.1 266.3 1478.7 269.9 1475.9 272.0 C1473.1 274.1 1470.2 275.4 1468.1 276.6 C1466.1 277.9 1464.8 280.3 1463.5 279.8 C1462.2 279.2 1463.0 275.1 1460.4 273.5 C1457.8 272.0 1451.6 272.0 1448.0 270.4 C1444.3 268.9 1441.2 266.8 1438.6 264.2 C1436.0 261.6 1433.7 258.0 1432.4 254.9 C1431.1 251.8 1430.6 248.0 1430.9 245.6 C1431.1 243.1 1434.2 240.9 1434.0 240.2 C1433.7 239.4 1430.6 241.3 1429.3 240.9 C1428.0 240.5 1425.7 239.1 1426.2 237.8Z" fill="#000"/>
<path d="M1491.1 188.9 C1490.0 186.5 1488.9 178.7 1488.8 174.2 C1488.7 169.6 1489.5 165.2 1490.7 161.7 C1491.8 158.2 1495.0 152.9 1495.6 153.2 C1496.2 153.5 1494.5 159.5 1494.2 163.3 C1494.0 167.0 1494.0 171.5 1494.2 175.7 C1494.4 179.9 1495.8 186.2 1495.3 188.4 C1494.8 190.6 1492.2 191.3 1491.1 188.9Z" fill="#000"/>
<path d="M1843.8 391.3 C1844.4 391.7 1847.2 403.7 1849.8 409.8 C1852.3 415.8 1855.9 421.9 1859.3 427.6 C1862.7 433.4 1865.8 439.1 1870.0 444.3 C1874.2 449.4 1878.9 454.0 1884.3 458.6 C1889.6 463.1 1896.0 466.5 1902.1 471.7 C1908.3 476.9 1920.0 487.6 1921.4 489.8 C1922.8 491.9 1915.3 487.4 1910.5 484.8 C1905.7 482.1 1898.6 477.8 1892.6 474.0 C1886.7 470.3 1879.7 466.3 1874.8 462.1 C1869.8 458.0 1866.4 454.8 1862.9 449.0 C1859.3 443.3 1856.1 434.6 1853.3 427.6 C1850.6 420.7 1847.8 413.4 1846.2 407.4 C1844.6 401.3 1843.2 390.9 1843.8 391.3Z" fill="#000"/>
<path d="M255.5 1495.0 C257.2 1491.2 260.1 1486.2 265.0 1482.5 C269.9 1478.8 279.4 1475.6 285.0 1472.5 C290.6 1469.4 297.0 1466.7 298.8 1463.8 C300.5 1460.8 295.3 1458.1 295.5 1455.0 C295.7 1451.9 297.2 1448.5 300.0 1445.0 C302.8 1441.5 307.9 1436.7 312.5 1433.8 C317.1 1430.8 321.7 1429.2 327.5 1427.5 C333.3 1425.8 340.8 1424.2 347.5 1423.8 C354.2 1423.2 361.2 1423.0 367.5 1424.5 C373.8 1426.0 380.2 1429.7 385.0 1432.5 C389.8 1435.3 393.3 1438.8 396.2 1441.2 C399.2 1443.8 399.4 1445.8 402.5 1447.5 C405.6 1449.2 411.2 1449.2 415.0 1451.2 C418.8 1453.3 422.1 1455.6 425.0 1460.0 C427.9 1464.4 430.6 1471.2 432.5 1477.5 C434.4 1483.8 435.0 1492.7 436.2 1497.5 C437.5 1502.3 437.3 1503.3 440.0 1506.2 C442.7 1509.2 448.5 1511.9 452.5 1515.0 C456.5 1518.1 457.5 1523.1 463.8 1525.0 C470.0 1526.9 477.3 1525.4 490.0 1526.2 C502.7 1527.1 527.5 1529.8 540.0 1530.0 C552.5 1530.2 552.5 1528.8 565.0 1527.5 C577.5 1526.2 598.3 1523.8 615.0 1522.5 C631.7 1521.2 647.5 1519.5 665.0 1519.5 C682.5 1519.5 704.6 1521.2 720.0 1522.5 C735.4 1523.8 745.4 1525.1 757.5 1527.5 C769.6 1529.9 782.1 1536.2 792.5 1537.0 C802.9 1537.8 811.2 1534.3 820.0 1532.5 C828.8 1530.7 836.7 1527.7 845.0 1526.2 C853.3 1524.8 859.6 1524.3 870.0 1523.8 C880.4 1523.2 895.0 1523.8 907.5 1523.0 C920.0 1522.2 934.6 1521.3 945.0 1518.8 C955.4 1516.2 962.5 1512.3 970.0 1507.5 C977.5 1502.7 983.8 1496.7 990.0 1490.0 C996.2 1483.3 1002.5 1475.0 1007.5 1467.5 C1012.5 1460.0 1017.3 1449.4 1020.0 1445.0 C1022.7 1440.6 1022.8 1440.8 1023.8 1441.2 C1024.7 1441.7 1025.7 1443.5 1025.5 1447.5 C1025.3 1451.5 1024.7 1457.9 1022.5 1465.0 C1020.3 1472.1 1017.1 1481.7 1012.5 1490.0 C1007.9 1498.3 1002.1 1507.1 995.0 1515.0 C987.9 1522.9 978.3 1531.9 970.0 1537.5 C961.7 1543.1 953.3 1546.9 945.0 1548.8 C936.7 1550.6 932.5 1548.5 920.0 1548.8 C907.5 1549.0 883.3 1548.8 870.0 1550.0 C856.7 1551.2 849.6 1553.3 840.0 1556.2 C830.4 1559.2 815.8 1564.4 812.5 1567.5 C809.2 1570.6 818.1 1572.5 820.0 1575.0 C821.9 1577.5 822.5 1575.0 823.8 1582.5 C825.0 1590.0 826.5 1607.5 827.5 1620.0 C828.5 1632.5 829.7 1642.4 830.0 1657.5 C830.3 1672.6 829.2 1698.6 829.2 1710.4 C829.3 1722.1 829.8 1720.7 830.5 1728.0 C831.1 1735.3 831.8 1746.8 833.1 1754.4 C834.4 1762.0 834.6 1766.4 838.4 1773.8 C842.2 1781.1 849.5 1791.1 856.0 1798.4 C862.4 1805.7 872.9 1813.4 877.1 1817.8 C881.4 1822.2 880.9 1817.8 881.5 1824.8 C882.1 1831.8 880.5 1848.3 880.6 1860.0 C880.8 1871.7 881.5 1885.5 882.4 1895.2 C883.3 1904.9 885.6 1913.1 885.9 1918.1 C886.2 1923.1 885.9 1921.6 884.2 1925.1 C882.4 1928.6 877.4 1935.7 875.4 1939.2 C873.3 1942.7 875.4 1944.8 871.8 1946.2 C868.3 1947.7 861.0 1948.0 854.2 1948.0 C847.5 1948.0 836.0 1948.3 831.4 1946.2 C826.7 1944.2 826.4 1938.6 826.1 1935.7 C825.8 1932.7 827.5 1931.3 829.6 1928.6 C831.6 1926.0 834.0 1922.2 838.4 1919.8 C842.8 1917.5 853.6 1921.6 856.0 1914.6 C858.3 1907.5 854.5 1888.2 852.5 1877.6 C850.4 1867.0 847.5 1859.7 843.7 1851.2 C839.9 1842.7 833.7 1833.0 829.6 1826.6 C825.5 1820.1 823.4 1808.4 819.0 1812.5 C814.6 1816.6 807.3 1840.0 803.2 1851.2 C799.1 1862.3 796.4 1872.6 794.4 1879.4 C792.3 1886.1 792.9 1888.4 790.9 1891.7 C788.8 1894.9 788.2 1897.5 782.1 1898.7 C775.9 1899.9 760.5 1899.3 753.9 1898.7 C747.3 1898.1 744.7 1897.5 742.5 1895.2 C740.3 1892.8 740.0 1887.9 740.7 1884.6 C741.5 1881.4 744.7 1878.3 746.9 1875.8 C749.1 1873.3 750.1 1870.8 753.9 1869.7 C757.7 1868.5 766.5 1870.1 769.8 1868.8 C773.0 1867.5 771.8 1866.2 773.3 1861.8 C774.7 1857.4 777.7 1850.0 778.6 1842.4 C779.4 1834.8 779.1 1823.9 778.6 1816.0 C778.0 1808.1 776.8 1801.0 775.0 1794.9 C773.3 1788.7 771.5 1784.9 768.0 1779.0 C764.5 1773.2 759.2 1767.0 753.9 1759.7 C748.6 1752.3 741.6 1742.7 736.3 1735.0 C731.0 1727.4 725.8 1720.4 722.2 1713.9 C718.7 1707.5 717.0 1701.6 715.2 1696.3 C713.4 1691.0 715.0 1683.3 711.7 1682.2 C708.3 1681.2 700.7 1688.9 695.0 1690.0 C689.3 1691.1 681.7 1691.7 677.5 1688.8 C673.3 1685.8 689.8 1669.5 670.0 1672.5 C650.2 1675.5 583.2 1699.1 558.8 1706.9 C534.4 1714.7 532.4 1716.3 523.6 1719.2 C514.8 1722.1 510.4 1722.4 506.0 1724.5 C501.6 1726.5 498.4 1725.1 497.2 1731.5 C496.0 1738.0 497.8 1752.0 499.0 1763.2 C500.1 1774.3 502.5 1787.2 504.2 1798.4 C506.0 1809.5 508.0 1821.9 509.5 1830.1 C511.0 1838.3 512.7 1843.0 513.0 1847.7 C513.3 1852.4 512.7 1855.6 511.3 1858.2 C509.8 1860.9 505.7 1857.4 504.2 1863.5 C502.8 1869.7 503.4 1887.6 502.5 1895.2 C501.6 1902.8 501.3 1905.6 499.0 1909.3 C496.6 1912.9 495.4 1915.7 488.4 1917.2 C481.4 1918.7 463.5 1918.5 456.7 1918.1 C450.0 1917.6 449.4 1916.6 447.9 1914.6 C446.4 1912.5 446.7 1909.6 447.9 1905.8 C449.1 1901.9 452.3 1894.9 455.0 1891.7 C457.6 1888.4 460.2 1887.9 463.8 1886.4 C467.3 1884.9 474.0 1885.8 476.1 1882.9 C478.1 1879.9 476.4 1875.5 476.1 1868.8 C475.8 1862.0 475.5 1851.2 474.3 1842.4 C473.1 1833.6 470.8 1824.8 469.0 1816.0 C467.3 1807.2 465.8 1796.6 463.8 1789.6 C461.7 1782.6 459.6 1770.8 456.7 1773.8 C453.8 1776.7 449.7 1795.8 446.2 1807.2 C442.6 1818.6 439.1 1829.2 435.6 1842.4 C432.1 1855.6 427.1 1877.3 425.0 1886.4 C423.0 1895.5 424.7 1894.3 423.3 1897.0 C421.8 1899.6 418.6 1898.7 416.2 1902.2 C413.9 1905.8 410.7 1914.0 409.2 1918.1 C407.7 1922.2 408.3 1923.1 407.4 1926.9 C406.6 1930.7 406.0 1937.7 403.9 1941.0 C401.9 1944.2 396.9 1944.5 395.1 1946.2 C393.4 1948.0 396.9 1950.2 393.4 1951.5 C389.8 1952.8 380.7 1954.1 374.0 1954.1 C367.3 1954.1 357.0 1953.4 352.9 1951.5 C348.8 1949.6 348.5 1947.4 349.4 1942.7 C350.2 1938.0 354.3 1927.2 358.2 1923.4 C362.0 1919.5 369.0 1920.4 372.2 1919.8 C375.5 1919.2 375.2 1922.5 377.5 1919.8 C379.9 1917.2 383.7 1911.0 386.3 1904.0 C389.0 1897.0 391.6 1886.4 393.4 1877.6 C395.1 1868.8 395.1 1861.5 396.9 1851.2 C398.6 1840.9 402.2 1827.7 403.9 1816.0 C405.7 1804.3 406.7 1791.9 407.4 1780.8 C408.2 1769.6 408.9 1757.9 408.3 1749.1 C407.7 1740.3 405.8 1735.0 403.9 1728.0 C402.0 1721.0 399.1 1714.2 396.9 1706.9 C394.7 1699.5 392.2 1692.2 390.7 1684.0 C389.3 1675.8 389.2 1665.8 388.1 1657.6 C386.9 1649.4 385.9 1642.1 383.8 1635.0 C381.6 1627.9 378.1 1620.8 375.0 1615.0 C371.9 1609.2 368.8 1606.7 365.0 1600.0 C361.2 1593.3 356.7 1582.5 352.5 1575.0 C348.3 1567.5 344.6 1561.2 340.0 1555.0 C335.4 1548.8 329.2 1540.8 325.0 1537.5 C320.8 1534.2 320.0 1535.6 315.0 1535.0 C310.0 1534.4 301.2 1534.6 295.0 1533.8 C288.8 1532.9 282.1 1531.9 277.5 1530.0 C272.9 1528.1 270.0 1525.0 267.5 1522.5 C265.0 1520.0 264.6 1517.9 262.5 1515.0 C260.4 1512.1 256.2 1508.3 255.0 1505.0 C253.8 1501.7 253.8 1498.8 255.5 1495.0Z" fill="#000"/>
<path d="M741.9 375.6 C740.9 378.7 738.1 388.4 736.0 394.3 C734.0 400.1 731.0 405.9 729.8 410.6 C728.5 415.2 727.5 419.1 728.4 422.2 C729.2 425.3 731.5 428.0 734.9 429.2 C738.3 430.4 744.2 430.0 748.9 429.2 C753.5 428.4 759.0 427.6 762.8 424.5 C766.6 421.5 769.9 415.7 771.7 411.0 C773.4 406.4 774.0 401.3 773.3 396.6 C772.6 391.8 769.4 386.0 767.5 382.6 C765.5 379.2 762.6 377.2 761.7 376.1" fill="none" stroke="#fff" stroke-width="3.1" stroke-linecap="round"/>
<path d="M858.1 460.2 C858.6 462.7 860.4 470.8 861.4 475.0 C862.4 479.1 863.0 482.7 864.1 485.1 C865.3 487.5 864.9 488.7 868.2 489.5 C871.4 490.3 881.1 489.7 883.6 489.8" fill="none" stroke="#fff" stroke-width="2.9" stroke-linecap="round"/>
<path d="M956.3 460.2 C958.3 460.1 964.6 459.2 968.4 459.9 C972.2 460.6 975.6 462.2 979.2 464.2 C982.8 466.3 987.0 469.6 990.0 472.3 C992.9 475.0 995.6 479.0 996.7 480.4" fill="none" stroke="#fff" stroke-width="2.9" stroke-linecap="round"/>
<path d="M957.7 472.3 C958.0 473.4 958.3 477.2 959.7 479.0 C961.0 480.8 963.2 482.4 965.7 483.1 C968.3 483.7 972.0 483.8 975.2 483.1 C978.3 482.3 982.0 479.7 984.6 478.4 C987.2 477.1 989.6 475.8 990.6 475.3" fill="none" stroke="#fff" stroke-width="2.9" stroke-linecap="round"/>
<path d="M1148.9 280.7 C1149.2 283.7 1149.9 293.3 1150.7 299.1 C1151.4 304.9 1151.4 312.1 1153.3 315.4 C1155.1 318.8 1158.7 319.7 1162.0 319.1 C1165.2 318.6 1169.6 315.7 1172.8 312.2 C1176.1 308.7 1180.1 300.4 1181.5 298.0" fill="none" stroke="#fff" stroke-width="3.7" stroke-linecap="round"/>
<path d="M1177.6 469.0 C1179.1 469.7 1184.2 471.0 1186.4 472.7 C1188.6 474.5 1189.8 476.3 1190.8 479.6 C1191.8 483.0 1192.2 486.2 1192.6 492.8 C1192.9 499.4 1192.9 510.4 1192.7 519.2 C1192.6 528.0 1192.2 538.3 1191.9 545.6 C1191.5 553.0 1191.3 558.1 1190.6 563.2 C1190.0 568.4 1189.1 573.2 1188.0 576.4 C1186.8 579.7 1185.4 580.9 1183.8 582.6 C1182.1 584.3 1179.0 585.9 1178.0 586.6" fill="none" stroke="#fff" stroke-width="3.6" stroke-linecap="round"/>
<path d="M1229.5 439.1 C1230.4 441.0 1233.2 446.9 1234.8 450.6 C1236.4 454.2 1238.3 458.0 1239.2 461.1 C1240.1 464.2 1240.3 466.1 1240.1 469.0 C1239.9 472.0 1238.3 477.1 1237.9 478.7" fill="none" stroke="#fff" stroke-width="3.6" stroke-linecap="round"/>
<path d="M1363.7 466.3 C1366.1 468.0 1373.6 472.3 1378.0 476.0 C1382.5 479.7 1385.3 483.7 1390.4 488.4 C1395.6 493.2 1402.9 499.4 1409.1 504.6 C1415.3 509.8 1421.5 514.5 1427.7 519.5 C1433.9 524.5 1442.3 531.2 1446.3 534.4 C1450.4 537.6 1451.0 538.0 1451.9 538.8" fill="none" stroke="#fff" stroke-width="3.6" stroke-linecap="round"/>
<path d="M486.8 438.8 C487.1 441.2 487.8 448.8 488.7 453.4 C489.6 457.9 491.3 463.0 492.4 466.4 C493.5 469.8 495.4 470.9 495.2 473.9 C495.1 476.8 492.6 480.5 491.5 484.1 C490.4 487.7 488.8 491.1 488.5 495.3 C488.3 499.5 488.5 505.4 490.0 509.3 C491.5 513.1 494.4 516.6 497.5 518.6 C500.5 520.6 505.4 521.7 508.3 521.4 C511.1 521.1 513.5 520.0 514.8 516.7 C516.1 513.4 516.2 507.4 516.1 501.8 C516.0 496.2 514.2 488.8 514.2 483.2 C514.2 477.6 515.2 472.9 516.1 468.3 C517.0 463.6 519.0 458.6 519.4 455.2 C519.9 451.8 518.8 449.0 518.7 447.8" fill="none" stroke="#fff" stroke-width="2.6" stroke-linecap="round"/>
<path d="M504.5 438.8 C503.7 441.6 500.8 449.7 499.3 455.2 C497.8 460.7 496.2 469.2 495.6 472.0" fill="none" stroke="#fff" stroke-width="2.4" stroke-linecap="round"/>
<path d="M582.4 539.1 C582.7 542.2 584.8 552.1 584.3 557.7 C583.7 563.3 580.6 569.1 579.1 572.6 C577.5 576.1 575.7 577.6 575.0 578.6" fill="none" stroke="#fff" stroke-width="2.4" stroke-linecap="round"/>
<path d="M651.7 557.7 C650.6 559.6 645.2 565.1 644.7 568.9 C644.1 572.7 645.3 577.6 648.4 580.4 C651.4 583.2 658.0 583.8 662.9 585.7 C667.8 587.5 675.0 589.7 677.8 591.2 C680.7 592.8 679.7 594.3 680.1 595.0" fill="none" stroke="#fff" stroke-width="2.4" stroke-linecap="round"/>
<path d="M111.7 477.3 C111.8 478.5 112.4 482.2 112.2 484.7 C111.9 487.2 111.1 490.5 110.3 492.2 C109.5 493.8 108.0 494.1 107.5 494.5" fill="none" stroke="#fff" stroke-width="1.8" stroke-linecap="round"/>
<path d="M303.8 463.3 C304.4 464.0 307.4 465.5 307.4 467.8 C307.4 470.1 305.1 475.0 304.0 476.9 C302.9 478.9 301.1 479.0 300.6 479.4" fill="none" stroke="#fff" stroke-width="2.4" stroke-linecap="round"/>
<path d="M285.5 521.6 C286.5 521.2 288.9 519.9 291.2 519.3 C293.6 518.7 298.4 518.3 299.8 518.2" fill="none" stroke="#fff" stroke-width="2.4" stroke-linecap="round"/>
<path d="M299.2 543.0 C300.2 543.4 303.5 543.9 304.9 545.3 C306.3 546.6 307.0 550.0 307.4 550.9" fill="none" stroke="#fff" stroke-width="2.4" stroke-linecap="round"/>
<path d="M349.3 543.0 C349.9 544.3 352.1 548.7 352.7 550.9 C353.3 553.2 352.9 555.7 353.0 556.6" fill="none" stroke="#fff" stroke-width="2.4" stroke-linecap="round"/>
<path d="M375.5 552.1 C377.6 550.9 384.0 546.4 388.0 545.3 C392.0 544.1 396.3 544.3 399.4 545.3 C402.5 546.2 404.2 548.6 406.5 550.9 C408.8 553.3 412.2 557.8 413.3 559.1" fill="none" stroke="#fff" stroke-width="2.4" stroke-linecap="round"/>
<path d="M270.7 455.3 L278.7 456.4" fill="none" stroke="#fff" stroke-width="2.2" stroke-linecap="round"/>
<path d="M1528.7 209.9 C1529.8 210.4 1534.6 210.7 1535.2 213.0 C1535.8 215.3 1534.2 220.0 1532.1 223.9 C1530.0 227.7 1524.3 234.2 1522.8 236.3" fill="none" stroke="#fff" stroke-width="3.5" stroke-linecap="round"/>
<path d="M1544.9 411.1 C1547.3 413.2 1555.9 420.1 1559.2 424.0 C1562.4 427.9 1563.2 428.7 1564.3 434.3 C1565.5 440.0 1565.9 449.4 1566.3 457.6 C1566.7 465.8 1566.8 474.9 1566.9 483.5 C1567.0 492.1 1566.8 500.8 1566.9 509.4 C1567.0 518.0 1567.6 528.8 1567.6 535.3 C1567.6 541.7 1567.9 543.5 1566.9 548.2 C1566.0 553.0 1564.1 558.8 1561.8 563.7 C1559.4 568.7 1555.5 574.5 1552.7 578.0 C1549.9 581.4 1546.2 583.4 1544.9 584.5" fill="none" stroke="#fff" stroke-width="3.7" stroke-linecap="round"/>
<path d="M1616.1 420.1 C1615.2 421.6 1612.4 426.2 1610.9 429.2 C1609.5 432.2 1608.1 435.2 1607.3 438.2 C1606.5 441.2 1606.2 445.8 1606.0 447.3" fill="none" stroke="#fff" stroke-width="3.5" stroke-linecap="round"/>
<path d="M1720.0 402.6 C1724.0 402.0 1736.9 398.8 1743.8 399.0 C1750.8 399.2 1756.7 401.4 1761.7 403.8 C1766.6 406.2 1768.6 409.0 1773.6 413.3 C1778.5 417.7 1786.1 424.4 1791.4 430.0 C1796.8 435.6 1803.3 443.9 1805.7 446.7" fill="none" stroke="#fff" stroke-width="3.7" stroke-linecap="round"/>
<path d="M1743.8 432.4 C1745.8 431.6 1751.5 430.4 1755.7 427.6 C1759.9 424.8 1766.4 418.7 1768.8 415.7 C1771.2 412.7 1769.8 410.8 1770.0 409.8" fill="none" stroke="#fff" stroke-width="3.5" stroke-linecap="round"/>
<path d="M1840.2 387.1 C1840.8 389.9 1842.4 397.5 1843.8 403.8 C1845.2 410.2 1846.6 418.9 1848.6 425.2 C1850.6 431.6 1853.3 437.1 1855.7 441.9 C1858.1 446.7 1861.7 451.8 1862.9 453.8" fill="none" stroke="#fff" stroke-width="3.5" stroke-linecap="round"/>
<ellipse cx="715.9" cy="381.6" rx="2.6" ry="2.2" transform="rotate(0 715.9 381.6)" fill="#fff"/>
<ellipse cx="1122.8" cy="300.2" rx="3.6" ry="2.0" transform="rotate(-10 1122.8 300.2)" fill="#fff"/>
<ellipse cx="1475.1" cy="216.9" rx="4.2" ry="2.6" transform="rotate(-15 1475.1 216.9)" fill="#fff"/>
<ellipse cx="485.5" cy="414.5" rx="1.4" ry="3.6" transform="rotate(15 485.5 414.5)" fill="#fff"/>
<ellipse cx="93.3" cy="487.2" rx="1.5" ry="1.3" transform="rotate(0 93.3 487.2)" fill="#fff"/>
<rect x="69" y="732" width="1862" height="583" rx="50" fill="#d3deef"/>
<line x1="418" y1="782" x2="418" y2="1272" stroke="#fff" stroke-width="8" stroke-linecap="round"/>
<line x1="664" y1="782" x2="664" y2="1272" stroke="#fff" stroke-width="8" stroke-linecap="round"/>
<line x1="909" y1="782" x2="909" y2="1272" stroke="#fff" stroke-width="8" stroke-linecap="round"/>
<line x1="1155" y1="782" x2="1155" y2="1272" stroke="#fff" stroke-width="8" stroke-linecap="round"/>
<line x1="1400" y1="782" x2="1400" y2="1272" stroke="#fff" stroke-width="8" stroke-linecap="round"/>
<line x1="1646" y1="782" x2="1646" y2="1272" stroke="#fff" stroke-width="8" stroke-linecap="round"/>
<line x1="130" y1="878.0" x2="1869" y2="878.0" stroke="#fff" stroke-width="8" stroke-linecap="round"/>
<line x1="130" y1="1023.5" x2="1869" y2="1023.5" stroke="#fff" stroke-width="8" stroke-linecap="round"/>
<line x1="130" y1="1169.4" x2="1869" y2="1169.4" stroke="#fff" stroke-width="8" stroke-linecap="round"/>
<path d="M451.2 1504.5 C452.7 1504.2 457.1 1502.5 460.0 1503.0 C462.9 1503.5 467.5 1505.1 468.8 1507.5 C470.0 1509.9 469.0 1513.8 467.5 1517.5 C466.0 1521.2 464.6 1523.8 460.0 1530.0 C455.4 1536.2 447.5 1547.5 440.0 1555.0 C432.5 1562.5 423.3 1569.2 415.0 1575.0 C406.7 1580.8 398.3 1585.4 390.0 1590.0 C381.7 1594.6 371.7 1599.8 365.0 1602.5 C358.3 1605.2 353.8 1607.1 350.0 1606.2 C346.2 1605.4 342.5 1600.8 342.5 1597.5 C342.5 1594.2 348.8 1588.1 350.0 1586.2" fill="none" stroke="#2552ab" stroke-width="3.1" stroke-linecap="round" stroke-dasharray="0 6.6"/>
<path d="M495.0 1522.5 C495.4 1520.4 495.8 1513.1 497.5 1510.0 C499.2 1506.9 502.1 1502.9 505.0 1503.8 C507.9 1504.6 512.1 1509.8 515.0 1515.0 C517.9 1520.2 520.0 1525.4 522.5 1535.0 C525.0 1544.6 528.1 1560.0 530.0 1572.5 C531.9 1585.0 533.0 1597.5 533.8 1610.0 C534.5 1622.5 534.6 1636.6 534.5 1647.5 C534.4 1658.4 534.2 1664.7 533.3 1675.2 C532.3 1685.7 530.5 1701.6 528.9 1710.4 C527.3 1719.2 525.6 1723.0 523.6 1728.0 C521.5 1733.0 518.9 1739.1 516.6 1740.3 C514.2 1741.5 510.7 1735.9 509.5 1735.0" fill="none" stroke="#2552ab" stroke-width="3.1" stroke-linecap="round" stroke-dasharray="0 6.6"/>
<line x1="482.2" y1="1479.8" x2="787" y2="1479.8" stroke="#2552ab" stroke-width="2.9" stroke-linecap="round" stroke-dasharray="0 6.1"/>
<path d="M463.5 1479.5 L478 1471 L478 1488 Z" fill="#255bb8"/>
<path d="M801.5 1479.5 L787 1471 L787 1488 Z" fill="#255bb8"/>
<rect x="1235.5" y="1457" width="696" height="388" rx="42" fill="#d3deef"/>
<rect x="1186.5" y="1409.5" width="409.5" height="82.6" rx="41.3" fill="#fff"/>
<rect x="1188" y="1411" width="406.5" height="79.6" rx="39.8" fill="#255bb8"/>
<text id="title" x="196.65" y="167.40" font-size="98.78" textLength="582.32" lengthAdjust="spacingAndGlyphs" font-family="Liberation Sans, Arial, sans-serif" font-weight="bold" fill="#fff">SIZE CHART</text>
<text id="lab0" x="103.38" y="695.70" font-size="76.50" textLength="104.15" lengthAdjust="spacingAndGlyphs" font-family="Liberation Sans, Arial, sans-serif" font-weight="bold" fill="#000">XS</text>
<text id="lab1" x="321.97" y="695.70" font-size="76.50" textLength="49.25" lengthAdjust="spacingAndGlyphs" font-family="Liberation Sans, Arial, sans-serif" font-weight="bold" fill="#000">S</text>
<text id="lab2" x="565.94" y="695.70" font-size="76.50" textLength="66.65" lengthAdjust="spacingAndGlyphs" font-family="Liberation Sans, Arial, sans-serif" font-weight="bold" fill="#000">M</text>
<text id="lab3" x="894.87" y="695.70" font-size="76.50" textLength="47.93" lengthAdjust="spacingAndGlyphs" font-family="Liberation Sans, Arial, sans-serif" font-weight="bold" fill="#000">L</text>
<text id="lab4" x="1256.99" y="695.70" font-size="76.50" textLength="98.60" lengthAdjust="spacingAndGlyphs" font-family="Liberation Sans, Arial, sans-serif" font-weight="bold" fill="#000">XL</text>
<text id="lab5" x="1653.38" y="695.70" font-size="76.50" textLength="151.05" lengthAdjust="spacingAndGlyphs" font-family="Liberation Sans, Arial, sans-serif" font-weight="bold" fill="#000">XXL</text>
<text id="th0" x="190.80" y="836.30" font-size="50.00" textLength="109.92" lengthAdjust="spacingAndGlyphs" font-family="Liberation Sans, Arial, sans-serif" font-weight="bold" fill="#000">SIZE</text>
<text id="th1" x="506.85" y="836.30" font-size="50.00" textLength="68.62" lengthAdjust="spacingAndGlyphs" font-family="Liberation Sans, Arial, sans-serif" font-weight="bold" fill="#000">XS</text>
<text id="th2" x="771.36" y="836.30" font-size="50.00" textLength="33.42" lengthAdjust="spacingAndGlyphs" font-family="Liberation Sans, Arial, sans-serif" font-weight="bold" fill="#000">S</text>
<text id="th3" x="1007.59" y="836.30" font-size="50.00" textLength="46.73" lengthAdjust="spacingAndGlyphs" font-family="Liberation Sans, Arial, sans-serif" font-weight="bold" fill="#000">M</text>
<text id="th4" x="1266.00" y="836.30" font-size="50.00" textLength="30.55" lengthAdjust="spacingAndGlyphs" font-family="Liberation Sans, Arial, sans-serif" font-weight="bold" fill="#000">L</text>
<text id="th5" x="1491.06" y="836.30" font-size="50.00" textLength="64.79" lengthAdjust="spacingAndGlyphs" font-family="Liberation Sans, Arial, sans-serif" font-weight="bold" fill="#000">XL</text>
<text id="th6" x="1715.97" y="836.30" font-size="50.00" textLength="99.92" lengthAdjust="spacingAndGlyphs" font-family="Liberation Sans, Arial, sans-serif" font-weight="bold" fill="#000">XXL</text>
<text id="rl0" x="134.54" y="968.00" font-size="50.50" textLength="215.76" lengthAdjust="spacingAndGlyphs" font-family="Liberation Sans, Arial, sans-serif" font-weight="bold" fill="#000">Chest(in)</text>
<text id="rl1" x="132.01" y="1113.00" font-size="50.50" textLength="198.85" lengthAdjust="spacingAndGlyphs" font-family="Liberation Sans, Arial, sans-serif" font-weight="bold" fill="#000">Back(in)</text>
<text id="rl2" x="131.95" y="1252.00" font-size="50.50" textLength="202.54" lengthAdjust="spacingAndGlyphs" font-family="Liberation Sans, Arial, sans-serif" font-weight="bold" fill="#000">Neck(in)</text>
<text id="n00" x="439.13" y="963.20" font-size="36.40" textLength="199.93" lengthAdjust="spacingAndGlyphs" font-family="Liberation Sans, Arial, sans-serif" font-weight="bold" fill="#000">14.96−17.72</text>
<text id="n01" x="686.11" y="963.20" font-size="36.40" textLength="202.38" lengthAdjust="spacingAndGlyphs" font-family="Liberation Sans, Arial, sans-serif" font-weight="bold" fill="#000">17.72−20.87</text>
<text id="n02" x="928.98" y="963.20" font-size="36.40" textLength="207.44" lengthAdjust="spacingAndGlyphs" font-family="Liberation Sans, Arial, sans-serif" font-weight="bold" fill="#000">20.47−23.62</text>
<text id="n03" x="1179.69" y="963.20" font-size="36.40" textLength="205.42" lengthAdjust="spacingAndGlyphs" font-family="Liberation Sans, Arial, sans-serif" font-weight="bold" fill="#000">23.62−26.77</text>
<text id="n04" x="1419.79" y="963.20" font-size="36.40" textLength="206.25" lengthAdjust="spacingAndGlyphs" font-family="Liberation Sans, Arial, sans-serif" font-weight="bold" fill="#000">26.77−29.92</text>
<text id="n05" x="1664.39" y="963.20" font-size="36.40" textLength="204.21" lengthAdjust="spacingAndGlyphs" font-family="Liberation Sans, Arial, sans-serif" font-weight="bold" fill="#000">30.71−33.86</text>
<text id="n10" x="503.43" y="1109.90" font-size="36.40" textLength="72.93" lengthAdjust="spacingAndGlyphs" font-family="Liberation Sans, Arial, sans-serif" font-weight="bold" fill="#000">7.87</text>
<text id="n11" x="750.78" y="1109.90" font-size="36.40" textLength="75.37" lengthAdjust="spacingAndGlyphs" font-family="Liberation Sans, Arial, sans-serif" font-weight="bold" fill="#000">9.84</text>
<text id="n12" x="989.96" y="1109.90" font-size="36.40" textLength="86.57" lengthAdjust="spacingAndGlyphs" font-family="Liberation Sans, Arial, sans-serif" font-weight="bold" fill="#000">11.81</text>
<text id="n13" x="1235.13" y="1109.90" font-size="36.40" textLength="92.60" lengthAdjust="spacingAndGlyphs" font-family="Liberation Sans, Arial, sans-serif" font-weight="bold" fill="#000">13.78</text>
<text id="n14" x="1475.24" y="1109.90" font-size="36.40" textLength="93.39" lengthAdjust="spacingAndGlyphs" font-family="Liberation Sans, Arial, sans-serif" font-weight="bold" fill="#000">15.75</text>
<text id="n15" x="1720.62" y="1109.90" font-size="36.40" textLength="90.06" lengthAdjust="spacingAndGlyphs" font-family="Liberation Sans, Arial, sans-serif" font-weight="bold" fill="#000">17.71</text>
<text id="n20" x="462.53" y="1248.40" font-size="36.40" textLength="156.25" lengthAdjust="spacingAndGlyphs" font-family="Liberation Sans, Arial, sans-serif" font-weight="bold" fill="#000">9.06−11.8</text>
<text id="n21" x="687.82" y="1248.40" font-size="36.40" textLength="199.14" lengthAdjust="spacingAndGlyphs" font-family="Liberation Sans, Arial, sans-serif" font-weight="bold" fill="#000">11.02−14.96</text>
<text id="n22" x="933.06" y="1248.40" font-size="36.40" textLength="196.92" lengthAdjust="spacingAndGlyphs" font-family="Liberation Sans, Arial, sans-serif" font-weight="bold" fill="#000">13.78−16.14</text>
<text id="n23" x="1180.91" y="1248.40" font-size="36.40" textLength="202.38" lengthAdjust="spacingAndGlyphs" font-family="Liberation Sans, Arial, sans-serif" font-weight="bold" fill="#000">15.75−18.89</text>
<text id="n24" x="1422.01" y="1248.40" font-size="36.40" textLength="202.59" lengthAdjust="spacingAndGlyphs" font-family="Liberation Sans, Arial, sans-serif" font-weight="bold" fill="#000">17.72−20.87</text>
<text id="n25" x="1662.06" y="1248.40" font-size="36.40" textLength="206.05" lengthAdjust="spacingAndGlyphs" font-family="Liberation Sans, Arial, sans-serif" font-weight="bold" fill="#000">19.69−20.83</text>
<text id="bl0" x="520.97" y="1465.70" font-size="40.26" textLength="215.72" lengthAdjust="spacingAndGlyphs" font-family="Liberation Sans, Arial, sans-serif" font-weight="normal" fill="#255bb8">BACK LEGTH</text>
<text id="bl1" x="139.29" y="1645.70" font-size="38.81" textLength="212.26" lengthAdjust="spacingAndGlyphs" font-family="Liberation Sans, Arial, sans-serif" font-weight="normal" fill="#255bb8">NECK LEGTH</text>
<text id="bl2" x="513.25" y="1779.50" font-size="39.90" textLength="237.41" lengthAdjust="spacingAndGlyphs" font-family="Liberation Sans, Arial, sans-serif" font-weight="normal" fill="#255bb8">CHEST LEGTH</text>
<text id="wt" x="1249.40" y="1471.00" font-size="55.04" textLength="291.06" lengthAdjust="spacingAndGlyphs" font-family="DejaVu Sans, Liberation Sans, sans-serif" font-weight="normal" fill="#fff">WARM TIPS:</text>
<text id="p0" x="1272.04" y="1547.40" font-size="44.00" textLength="581.13" lengthAdjust="spacingAndGlyphs" font-family="DejaVu Sans, Liberation Sans, sans-serif" font-weight="normal" fill="#000">If your dog&#39;s measurements</text>
<text id="p1" x="1273.97" y="1605.30" font-size="44.00" textLength="601.42" lengthAdjust="spacingAndGlyphs" font-family="DejaVu Sans, Liberation Sans, sans-serif" font-weight="normal" fill="#000">are comparable between two</text>
<text id="p2" x="1273.92" y="1662.30" font-size="44.00" textLength="589.81" lengthAdjust="spacingAndGlyphs" font-family="DejaVu Sans, Liberation Sans, sans-serif" font-weight="normal" fill="#000">sizes, choose the larger size</text>
<text id="p3" x="1275.86" y="1719.60" font-size="44.00" textLength="613.06" lengthAdjust="spacingAndGlyphs" font-family="DejaVu Sans, Liberation Sans, sans-serif" font-weight="normal" fill="#000">for a more comfortable fit for</text>
<text id="p4" x="1274.90" y="1776.60" font-size="44.00" textLength="194.82" lengthAdjust="spacingAndGlyphs" font-family="DejaVu Sans, Liberation Sans, sans-serif" font-weight="normal" fill="#000">your dog.</text>
</svg>
</body></html>
